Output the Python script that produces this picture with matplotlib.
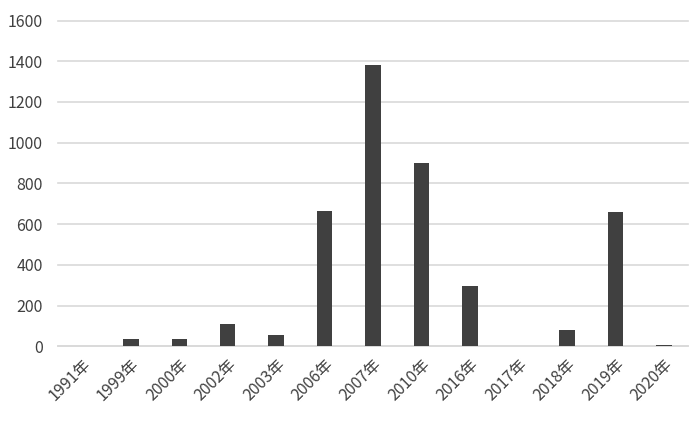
import matplotlib
matplotlib.use("Agg")
import matplotlib.pyplot as plt

plt.rcParams['font.family'] = ['Noto Sans CJK SC', 'DejaVu Sans']

categories = ["1991年", "1999年", "2000年", "2002年", "2003年", "2006年", "2007年",
              "2010年", "2016年", "2017年", "2018年", "2019年", "2020年"]
values = [0, 37, 37, 108, 55, 665, 1384, 898, 295, 0, 78, 657, 8]
yticks = [0, 200, 400, 600, 800, 1000, 1200, 1400, 1600]

fig = plt.figure(figsize=(7.0, 4.29), dpi=100)
ax = fig.add_axes([0.083, 0.193, 0.9, 0.759])

x = list(range(len(categories)))
ax.bar(x, values, width=0.32, color="#404040", zorder=3)

ax.set_xlim(-0.5, len(categories) - 0.5)
ax.set_ylim(0, 1600)
ax.set_yticks(yticks)
ax.set_yticklabels([str(v) for v in yticks], fontsize=11.5, color="#404040")
ax.yaxis.grid(True, color="#d9d9d9", linewidth=1.2, zorder=0)
for gl in ax.get_ygridlines():
    gl.set_clip_on(False)
ax.set_xticks(x)
ax.set_xticklabels(categories, rotation=45, ha="right", rotation_mode="anchor",
                   fontsize=11.5, color="#404040")
ax.tick_params(axis="both", length=0)
ax.tick_params(axis="y", pad=11)
ax.tick_params(axis="x", pad=7)
for s in ["top", "right", "left"]:
    ax.spines[s].set_visible(False)
ax.spines["bottom"].set_color("#d9d9d9")
ax.spines["bottom"].set_linewidth(1.2)

fig.savefig("out.png", dpi=100, facecolor="white")
